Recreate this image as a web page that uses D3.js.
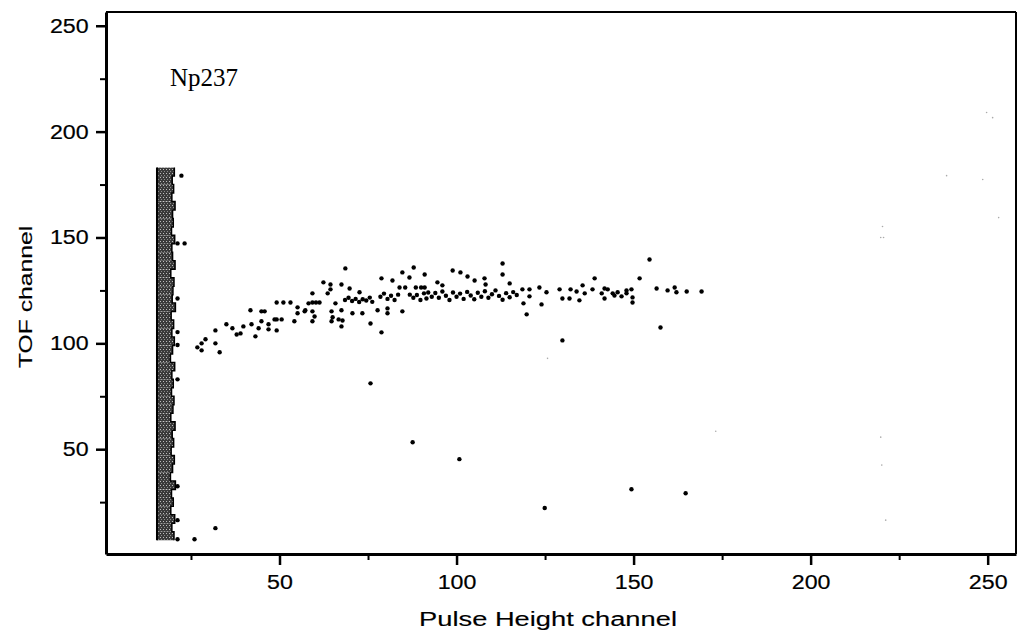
<!DOCTYPE html>
<html>
<head>
<meta charset="utf-8">
<script src="https://cdn.jsdelivr.net/npm/d3@7"></script>
<style>
  body { margin: 0; background: #fff; }
  svg { display: block; }
</style>
</head>
<body>
<div id="chart"></div>
<script>
// dense band near the pulse height threshold: TOF channels 7..183 in steps of 4
const bandStart = 7;
const bandStep = 4;
const bandLeft = 15.4;
const bandRight = [20.2, 19.6, 20.4, 19.3, 20.0, 19.5, 20.6, 19.2, 19.8, 20.3, 19.4, 20.1,
  19.7, 20.5, 19.3, 19.9, 20.2, 19.5, 20.0, 19.6, 20.4, 19.2, 19.8, 20.3, 19.6, 20.1,
  19.4, 20.6, 19.7, 19.9, 20.2, 19.3, 20.5, 19.8, 19.6, 20.4, 19.5, 20.0, 19.8, 20.5,
  19.6, 20.1, 19.7, 20.3];

// fission events [pulse height, TOF]
const events = [
  [22.3, 179.2], [21.2, 147.2], [23.2, 147.2], [21.2, 121.2], [21.2, 105.3], [21.2, 99.2],
  [21.2, 83.0], [21.2, 32.5], [21.2, 16.5], [21.2, 7.5], [26.0, 7.5], [31.9, 12.7],
  [26.8, 98.1], [28.0, 100.0], [28.0, 96.7], [29.1, 101.9], [31.9, 106.1], [31.9, 100.0],
  [33.1, 95.8], [35.0, 109.0], [36.7, 107.1], [37.9, 104.2], [39.0, 104.7], [39.8, 108.0],
  [41.8, 115.6], [42.1, 109.0], [43.2, 103.3], [44.1, 107.1], [44.9, 115.1], [45.8, 115.1],
  [44.9, 110.4], [46.9, 109.0], [46.9, 106.6], [48.6, 111.3], [49.2, 111.3], [50.6, 111.3],
  [49.2, 106.1], [49.2, 119.3], [51.1, 119.3], [53.1, 119.3], [54.2, 110.4], [55.1, 117.0],
  [55.1, 114.2], [57.3, 115.6], [58.2, 118.9], [57.1, 115.1], [59.3, 115.1], [59.3, 110.4],
  [59.3, 119.3], [60.3, 119.3], [61.3, 119.3], [59.9, 112.7], [59.3, 123.6], [62.4, 128.8],
  [63.6, 123.6], [64.4, 127.8], [64.4, 125.5], [64.7, 115.1], [64.7, 110.4], [65.0, 112.3],
  [65.8, 118.9], [66.7, 111.3], [67.5, 127.8], [67.5, 115.6], [67.5, 108.0], [67.8, 110.8],
  [68.6, 135.4], [69.8, 125.9], [70.6, 114.2], [72.6, 124.1], [73.4, 114.2], [75.7, 109.4],
  [68.5, 120.5], [69.5, 121.5], [70.5, 120.0], [71.5, 121.0], [72.5, 119.5], [73.5, 120.8],
  [74.5, 120.2], [75.5, 121.6], [76.2, 119.6], [77.7, 115.6], [78.8, 105.2], [78.8, 130.7],
  [80.5, 116.5], [80.5, 114.2], [81.9, 129.7], [83.9, 126.4], [84.7, 115.1], [84.7, 133.5],
  [86.7, 131.1], [87.9, 135.8], [91.0, 132.5], [85.5, 126.4], [88.5, 126.4], [90.0, 126.4],
  [78.5, 122.0], [79.5, 123.5], [80.5, 121.0], [81.5, 122.5], [82.5, 120.5], [83.5, 123.0],
  [86.8, 123.0], [87.8, 121.5], [88.8, 122.8], [89.8, 120.5], [90.8, 123.6], [91.5, 121.2],
  [91.0, 126.4], [94.6, 128.8], [96.0, 127.4], [98.9, 134.4], [101.1, 133.5], [103.1, 131.6],
  [105.1, 129.7], [107.9, 130.7], [108.2, 127.8], [113.0, 137.7], [113.0, 132.5],
  [115.0, 128.3], [92.0, 124.0], [93.0, 122.0], [94.0, 123.8], [95.0, 121.5], [96.0, 124.5],
  [97.0, 122.5], [98.0, 120.5], [99.0, 124.0], [100.0, 122.0], [101.0, 123.5], [102.0, 121.0],
  [103.0, 124.3], [104.0, 122.6], [105.0, 120.8], [106.0, 123.9], [107.0, 122.0],
  [108.0, 124.6], [109.0, 121.5], [110.0, 123.2], [111.0, 125.0], [112.0, 122.4],
  [113.0, 120.6], [114.0, 123.7], [115.0, 121.8], [116.0, 124.2], [117.0, 122.8],
  [118.6, 125.5], [120.6, 125.5], [123.4, 126.4], [125.4, 124.1], [120.6, 122.2],
  [118.9, 118.9], [124.0, 118.4], [119.8, 113.7], [129.1, 125.5], [129.9, 121.2],
  [131.9, 121.2], [132.2, 125.5], [133.9, 124.5], [134.7, 120.3], [135.6, 127.4],
  [136.2, 123.6], [138.4, 125.5], [139.0, 130.7], [141.0, 123.6], [141.8, 125.9],
  [141.8, 121.2], [142.7, 125.5], [144.1, 123.6], [144.6, 122.6], [145.5, 124.1],
  [146.6, 122.2], [148.0, 125.0], [148.0, 123.6], [149.4, 125.5], [149.7, 121.7],
  [149.7, 119.3], [151.7, 130.7], [154.5, 139.6], [156.5, 125.9], [159.6, 125.0],
  [161.6, 126.4], [162.1, 124.1], [165.0, 124.5], [169.2, 124.5], [157.6, 107.5],
  [129.9, 101.4], [75.7, 81.1], [87.6, 53.3], [100.8, 45.3], [124.9, 22.2],
  [149.4, 31.1], [164.7, 29.2]
];

// faint specks (scanner noise)
const specks = [
  [249.7, 209.0], [251.4, 206.6], [238.4, 179.2], [248.6, 177.4], [253.1, 159.4],
  [220.3, 155.2], [219.8, 150.0], [220.6, 150.0], [219.8, 55.7], [220.1, 42.5],
  [221.2, 16.5], [173.2, 58.5], [125.7, 92.9]
];

const majorTicks = [50, 100, 150, 200, 250];
const minorTicks = [25, 75, 125, 175, 225];

const width = 1017;
const height = 638;

const svg = d3.select("#chart").append("svg")
  .attr("width", width)
  .attr("height", height);

const x = d3.scaleLinear().domain([1, 258]).range([106, 1016]);
const y = d3.scaleLinear().domain([0.5, 256.5]).range([554, 12]);

const defs = svg.append("defs");
const pat = defs.append("pattern")
  .attr("id", "speckle")
  .attr("patternUnits", "userSpaceOnUse")
  .attr("width", 3).attr("height", 4);
pat.append("rect").attr("width", 3).attr("height", 4).attr("fill", "#3a3a3a");
pat.append("rect").attr("x", 1).attr("y", 1).attr("width", 1).attr("height", 1).attr("fill", "#bdbdbd");
pat.append("rect").attr("x", 2).attr("y", 3).attr("width", 1).attr("height", 1).attr("fill", "#8a8a8a");

// band
svg.append("g").selectAll("rect")
  .data(bandRight)
  .join("rect")
  .attr("x", x(bandLeft))
  .attr("y", (d, i) => y(bandStart + (i + 1) * bandStep))
  .attr("width", d => x(d) - x(bandLeft))
  .attr("height", (d, i) => y(bandStart + i * bandStep) - y(bandStart + (i + 1) * bandStep))
  .attr("fill", "url(#speckle)");

// jagged right edge of the band
const edgePts = [];
bandRight.forEach((d, i) => {
  edgePts.push([d, bandStart + i * bandStep]);
  edgePts.push([d, bandStart + (i + 1) * bandStep]);
});
svg.append("path")
  .attr("d", d3.line().x(d => x(d[0])).y(d => y(d[1]))(edgePts))
  .attr("fill", "none").attr("stroke", "#000").attr("stroke-width", 1.5);

svg.append("line")
  .attr("x1", x(bandLeft)).attr("x2", x(bandLeft))
  .attr("y1", y(bandStart)).attr("y2", y(bandStart + bandRight.length * bandStep))
  .attr("stroke", "#000").attr("stroke-width", 2);

svg.append("g").selectAll("circle")
  .data(specks)
  .join("circle")
  .attr("cx", d => x(d[0]))
  .attr("cy", d => y(d[1]))
  .attr("r", 0.8)
  .attr("fill", "#aaa");

svg.append("g").selectAll("circle")
  .data(events)
  .join("circle")
  .attr("cx", d => x(d[0]))
  .attr("cy", d => y(d[1]))
  .attr("r", 2.2)
  .attr("fill", "#000");

// frame
svg.append("line")
  .attr("x1", x(1)).attr("x2", x(258)).attr("y1", y(256.5)).attr("y2", y(256.5))
  .attr("stroke", "#000").attr("stroke-width", 2);
svg.append("line")
  .attr("x1", x(258)).attr("x2", x(258)).attr("y1", y(256.5)).attr("y2", y(0.5))
  .attr("stroke", "#000").attr("stroke-width", 2);

const font = "'Liberation Sans', Arial, sans-serif";

function styleAxis(g) {
  g.select(".domain").attr("stroke-width", 3);
  g.selectAll(".tick line").attr("stroke-width", 2.5);
  g.selectAll("text")
    .attr("font-family", font).attr("font-size", 20).attr("fill", "#000")
    .attr("stroke", "#000").attr("stroke-width", 0.2)
    .attr("transform", "scale(1.16,1)");
}

svg.append("g")
  .attr("transform", `translate(0,${y(0.5)})`)
  .call(d3.axisBottom(x).tickValues(minorTicks).tickSize(6).tickFormat(""))
  .call(g => g.select(".domain").remove())
  .call(g => g.selectAll(".tick line").attr("stroke-width", 2));

svg.append("g")
  .attr("transform", `translate(0,${y(0.5)})`)
  .call(d3.axisBottom(x).tickValues(majorTicks).tickSize(11).tickSizeOuter(0).tickPadding(10))
  .call(styleAxis);

svg.append("g")
  .attr("transform", `translate(${x(1)},0)`)
  .call(d3.axisLeft(y).tickValues(minorTicks).tickSize(6).tickFormat(""))
  .call(g => g.select(".domain").remove())
  .call(g => g.selectAll(".tick line").attr("stroke-width", 2));

svg.append("g")
  .attr("transform", `translate(${x(1)},0)`)
  .call(d3.axisLeft(y).tickValues(majorTicks).tickSize(10).tickSizeOuter(0).tickPadding(5))
  .call(styleAxis);

svg.append("text")
  .attr("transform", "translate(548,626) scale(1.3,1)")
  .attr("text-anchor", "middle")
  .attr("font-family", font).attr("font-size", 21)
  .attr("stroke", "#000").attr("stroke-width", 0.15)
  .text("Pulse Height channel");

svg.append("text")
  .attr("transform", "translate(32,297) rotate(-90) scale(1.3,1)")
  .attr("text-anchor", "middle")
  .attr("font-family", font).attr("font-size", 19)
  .attr("stroke", "#000").attr("stroke-width", 0.15)
  .text("TOF channel");

svg.append("text")
  .attr("x", 170).attr("y", 86)
  .attr("font-family", "'Liberation Serif', 'Times New Roman', serif")
  .attr("font-size", 25)
  .text("Np237");
</script>
</body>
</html>
